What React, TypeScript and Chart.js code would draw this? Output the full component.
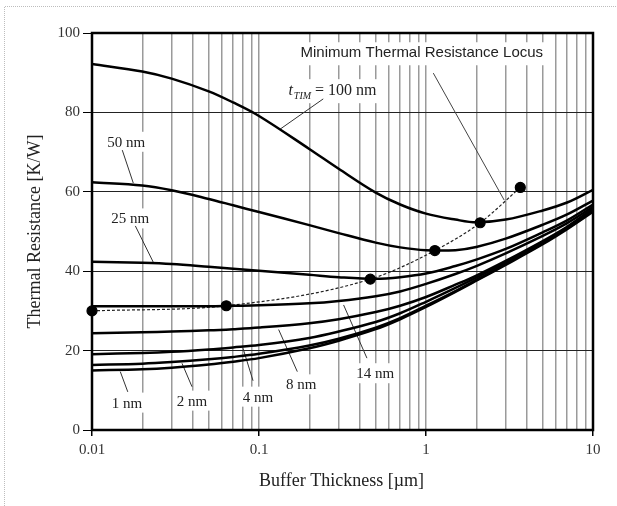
import React, { useEffect, useRef } from "react";
import { Chart, registerables } from "chart.js";

Chart.register(...registerables);

// ---- data ----
const xValues = [0.01, 0.02, 0.03, 0.05, 0.07, 0.1, 0.2, 0.3, 0.5, 0.7, 1, 1.5, 2, 3, 5, 7, 10];
const r100nm = [92.2, 90.3, 88.5, 85.3, 82.5, 79.1, 70.8, 65.8, 59.8, 56.8, 54.5, 53.0, 52.3, 53.0, 55.3, 57.3, 60.5];
const r50nm = [62.4, 61.6, 60.4, 58.2, 56.6, 54.9, 51.6, 49.6, 47.2, 46.0, 45.3, 45.3, 46.1, 48.2, 51.7, 54.3, 57.8];
const r25nm = [42.4, 42.1, 41.8, 41.1, 40.6, 40.1, 39.1, 38.5, 38.1, 38.5, 39.4, 41.3, 42.9, 45.6, 49.8, 52.8, 56.8];
const r14nm = [31.2, 31.2, 31.2, 31.2, 31.3, 31.4, 31.9, 32.5, 33.7, 34.9, 36.8, 39.3, 41.3, 44.5, 48.9, 52.1, 56.2];
const r8nm = [24.4, 24.6, 24.8, 25.1, 25.4, 25.8, 26.9, 27.9, 29.7, 31.3, 33.5, 36.6, 38.9, 42.6, 47.6, 51.2, 55.8];
const r4nm = [19.1, 19.4, 19.7, 20.3, 20.8, 21.4, 23.2, 24.8, 27.2, 29.4, 32.3, 35.8, 38.4, 42.2, 47.3, 51.0, 55.5];
const r2nm = [16.4, 16.7, 17.1, 17.8, 18.4, 19.2, 21.3, 23.0, 25.8, 28.2, 31.3, 35.0, 37.8, 41.8, 47.0, 50.8, 55.2];
const r1nm = [15.0, 15.3, 15.7, 16.5, 17.2, 18.1, 20.6, 22.5, 25.4, 27.9, 31.0, 34.8, 37.6, 41.6, 46.8, 50.6, 55.0];
const curves = [r100nm, r50nm, r25nm, r14nm, r8nm, r4nm, r2nm, r1nm];

const locusX = [0.01, 0.0637, 0.464, 1.13, 2.11, 3.67];
const locusY = [30.0, 31.3, 38.0, 45.2, 52.2, 61.1];

const xTicks = [
  0.01, 0.02, 0.03, 0.04, 0.05, 0.06, 0.07, 0.08, 0.09,
  0.1, 0.2, 0.3, 0.4, 0.5, 0.6, 0.7, 0.8, 0.9,
  1, 2, 3, 4, 5, 6, 7, 8, 9, 10,
];
const xTickLabels = ["0.01", "0.1", "1", "10"];
const yTicks = [0, 20, 40, 60, 80, 100];

const xTitle = "Buffer Thickness [\u00b5m]";
const yTitle = "Thermal Resistance [K/W]";
const locusTitle = "Minimum Thermal Resistance Locus";

// curve labels, anchored in data coordinates
const curveLabels = [
  { text: "50 nm", x: 0.01605, y: 72.6, from: [0.01518, 70.5], to: [0.01767, 62.2] },
  { text: "25 nm", x: 0.01696, y: 53.3, from: [0.01818, 51.4], to: [0.02338, 42.1] },
  { text: "1 nm", x: 0.0162, y: 6.9, from: [0.01638, 9.6], to: [0.01477, 14.7] },
  { text: "2 nm", x: 0.0397, y: 7.4, from: [0.0397, 10.9], to: [0.03459, 16.8] },
  { text: "4 nm", x: 0.0986, y: 8.4, from: [0.0921, 12.4], to: [0.0802, 20.6] },
  { text: "8 nm", x: 0.1792, y: 11.5, from: [0.1696, 14.7], to: [0.1311, 25.3] },
  { text: "14 nm", x: 0.497, y: 14.3, from: [0.443, 18.1], to: [0.321, 31.5] },
];

const isDecade = (v: number) => {
  const l = Math.log10(v);
  return Math.abs(l - Math.round(l)) < 1e-6;
};

const SERIF = '"Liberation Serif", "Times New Roman", serif';
const SANS = '"Liberation Sans", Arial, sans-serif';

const annotPlugin = {
  id: "annot",
  beforeDraw(chart: any) {
    const ctx = chart.ctx;
    ctx.save();
    ctx.strokeStyle = "#bdbdbd";
    ctx.lineWidth = 1;
    ctx.setLineDash([1, 1]);
    ctx.beginPath();
    ctx.moveTo(4.5, 506);
    ctx.lineTo(4.5, 6.5);
    ctx.lineTo(617, 6.5);
    ctx.stroke();
    ctx.restore();
  },
  beforeDatasetsDraw(chart: any) {
    const ctx = chart.ctx;
    const xs = chart.scales.x;
    const ys = chart.scales.y;
    const px = (v: number) => xs.getPixelForValue(v);
    const py = (v: number) => ys.getPixelForValue(v);
    ctx.save();
    ctx.textBaseline = "middle";
    ctx.textAlign = "center";

    // curve labels
    ctx.font = `15px ${SERIF}`;
    for (const l of curveLabels) {
      const cx = px(l.x);
      const cy = py(l.y);
      const w = ctx.measureText(l.text).width;
      ctx.fillStyle = "#fff";
      ctx.fillRect(cx - w / 2 - 3, cy - 10, w + 6, 20);
    }
    for (const l of curveLabels) {
      ctx.fillStyle = "#222";
      ctx.fillText(l.text, px(l.x), py(l.y) + 1);
      ctx.strokeStyle = "#333";
      ctx.lineWidth = 1;
      ctx.beginPath();
      ctx.moveTo(px(l.from[0]), py(l.from[1]));
      ctx.lineTo(px(l.to[0]), py(l.to[1]));
      ctx.stroke();
    }

    // locus title
    ctx.font = `15px ${SANS}`;
    const lx = px(0.944);
    const ly = py(94.9);
    const lw = ctx.measureText(locusTitle).width;
    ctx.fillStyle = "#fff";
    ctx.fillRect(lx - lw / 2 - 4, ly - 11, lw + 8, 23);
    ctx.fillStyle = "#222";
    ctx.fillText(locusTitle, lx, ly);
    ctx.strokeStyle = "#444";
    ctx.lineWidth = 1;
    ctx.beginPath();
    ctx.moveTo(px(1.106), py(89.9));
    ctx.lineTo(px(2.94), py(57.9));
    ctx.stroke();

    // t_TIM = 100 nm
    const tx = px(0.15);
    const tbase = py(85.6) + 5;
    ctx.textAlign = "left";
    ctx.textBaseline = "alphabetic";
    ctx.font = `italic 16px ${SERIF}`;
    const wT = ctx.measureText("t").width;
    ctx.font = `italic 10px ${SERIF}`;
    const wSub = ctx.measureText("TIM").width;
    ctx.font = `16px ${SERIF}`;
    const wRest = ctx.measureText(" = 100 nm").width;
    ctx.fillStyle = "#fff";
    ctx.fillRect(tx - 3, tbase - 16, wT + wSub + wRest + 6, 24);
    ctx.fillStyle = "#222";
    ctx.font = `italic 16px ${SERIF}`;
    ctx.fillText("t", tx, tbase);
    ctx.font = `italic 10px ${SERIF}`;
    ctx.fillText("TIM", tx + wT + 1, tbase + 4);
    ctx.font = `16px ${SERIF}`;
    ctx.fillText(" = 100 nm", tx + wT + wSub + 1, tbase);
    ctx.strokeStyle = "#333";
    ctx.beginPath();
    ctx.moveTo(px(0.2425), py(83.4));
    ctx.lineTo(px(0.134), py(75.8));
    ctx.stroke();

    // axis titles
    ctx.fillStyle = "#222";
    ctx.font = `18px ${SERIF}`;
    ctx.textAlign = "center";
    ctx.textBaseline = "middle";
    ctx.fillText(xTitle, (xs.left + xs.right) / 2 - 1, 481);
    ctx.translate(35, (ys.top + ys.bottom) / 2);
    ctx.rotate(-Math.PI / 2);
    ctx.fillText(yTitle, 0, 0);
    ctx.restore();
  },
  afterDatasetsDraw(chart: any) {
    const { ctx, chartArea: a } = chart;
    ctx.save();
    ctx.strokeStyle = "#000";
    ctx.lineWidth = 2.5;
    ctx.strokeRect(a.left, a.top, a.right - a.left, a.bottom - a.top);
    ctx.restore();
  },
};

export default function App() {
  const ref = useRef<HTMLCanvasElement>(null);
  useEffect(() => {
    if (!ref.current) return;
    const datasets: any[] = curves.map((c) => ({
      data: xValues.map((x, i) => ({ x, y: c[i] })),
      borderColor: "#000",
      borderWidth: 2.5,
      pointRadius: 0,
      fill: false,
      tension: 0.35,
    }));
    datasets.push({
      data: locusX.map((x, i) => ({ x, y: locusY[i] })),
      borderColor: "#222",
      borderWidth: 1.2,
      borderDash: [3, 2],
      pointRadius: 5,
      pointBackgroundColor: "#000",
      pointBorderColor: "#000",
      fill: false,
      clip: false,
      cubicInterpolationMode: "monotone",
    });
    const chart = new Chart(ref.current, {
      type: "line",
      data: { datasets },
      plugins: [annotPlugin],
      options: {
        animation: false,
        responsive: false,
        devicePixelRatio: 1,
        events: [],
        layout: { padding: { top: 33, right: 24, left: 0, bottom: 0 } },
        plugins: { legend: { display: false }, tooltip: { enabled: false } },
        scales: {
          x: {
            type: "logarithmic",
            min: 0.01,
            max: 10,
            afterBuildTicks: (s: any) => {
              s.ticks = xTicks.map((v) => ({ value: v }));
            },
            afterFit: (s: any) => {
              s.height = 76;
            },
            border: { display: false },
            grid: {
              color: "#9a9a9a",
              lineWidth: 1.5,
              tickLength: 6,
              tickColor: (c: any) => (c.tick && isDecade(c.tick.value) ? "#000" : "rgba(0,0,0,0)"),
            },
            ticks: {
              autoSkip: false,
              maxRotation: 0,
              padding: 5,
              color: "#333",
              font: { family: SERIF, size: 15 },
              callback: (v: any) => {
                const val = Number(v);
                if (!isDecade(val)) return "";
                const i = Math.round(Math.log10(val)) + 2;
                return xTickLabels[i];
              },
            },
          },
          y: {
            type: "linear",
            min: 0,
            max: 100,
            afterBuildTicks: (s: any) => {
              s.ticks = yTicks.map((v) => ({ value: v }));
            },
            afterFit: (s: any) => {
              s.width = 92;
            },
            border: { display: false },
            grid: {
              color: "#222",
              lineWidth: 1,
              tickLength: 9,
              tickColor: "#000",
            },
            ticks: {
              padding: 3,
              color: "#333",
              font: { family: SERIF, size: 15 },
            },
          },
        },
      },
    } as any);
    return () => chart.destroy();
  }, []);
  return (
    <div style={{ position: "absolute", left: 0, top: 0, width: 617, height: 506, background: "#fff" }}>
      <canvas ref={ref} width={617} height={506} style={{ width: 617, height: 506, display: "block" }} />
    </div>
  );
}
